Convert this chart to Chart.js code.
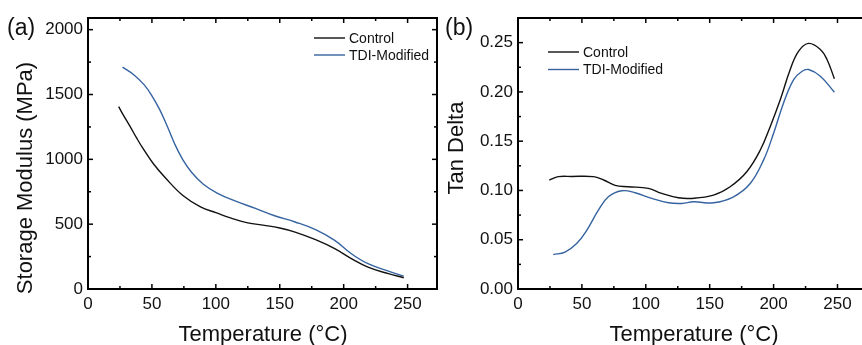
<!DOCTYPE html>
<html>
<head>
<meta charset="utf-8">
<script src="https://cdn.jsdelivr.net/npm/chart.js@4.4.1/dist/chart.umd.min.js"></script>
<style>
  html, body { margin: 0; padding: 0; background: #fff; overflow: hidden; }
  #wrap { position: relative; width: 862px; height: 345px; overflow: hidden; }
  canvas { position: absolute; top: 0; }
  #modulus { left: 0; }
  #tandelta { left: 440px; }
</style>
</head>
<body>
<div id="wrap">
  <canvas id="modulus" width="440" height="345"></canvas>
  <canvas id="tandelta" width="436" height="345"></canvas>
</div>
<script>
// (a) storage modulus
const ctrlTempA = [24, 28, 33, 38, 43, 51, 61, 74, 88, 100, 112, 125, 138, 150, 162, 178, 193, 206, 219, 235, 247];
const ctrlModulus = [1406, 1335, 1252, 1165, 1084, 968, 852, 723, 633, 589, 546, 510, 491, 470, 439, 380, 311, 234, 169, 118, 87];
const tdiTempA = [27, 36, 44, 50, 56, 62, 68, 74, 81, 90, 101, 115, 131, 146, 162, 178, 193, 206, 219, 235, 247];
const tdiModulus = [1711, 1651, 1574, 1490, 1385, 1255, 1115, 1000, 900, 810, 740, 679, 622, 565, 517, 458, 375, 272, 195, 138, 99];

// (b) tan delta
const ctrlTempB = [24.5, 31.5, 42, 59, 67, 76, 86, 102, 112.5, 125.5, 135, 153, 166, 179, 189.6, 197.4, 205.2, 213, 219.6, 227.4, 236.6, 241.8, 247.6];
const ctrlTan = [0.1106, 0.114, 0.1142, 0.114, 0.1106, 0.1052, 0.1038, 0.1021, 0.097, 0.0926, 0.0919, 0.0953, 0.1038, 0.119, 0.141, 0.165, 0.192, 0.2227, 0.2414, 0.2492, 0.2431, 0.2329, 0.2133];
const tdiTempB = [27.6, 36.8, 45.9, 53.8, 62.9, 70.7, 81.2, 91.6, 104.7, 117.7, 128.2, 137.3, 153, 168.7, 181.7, 192.2, 200, 207.8, 215.7, 222.3, 227.4, 236.6, 247.6];
const tdiTan = [0.0349, 0.0375, 0.0461, 0.0596, 0.08, 0.0936, 0.0997, 0.0977, 0.0919, 0.0875, 0.0868, 0.0885, 0.0875, 0.0936, 0.107, 0.131, 0.158, 0.1888, 0.2125, 0.221, 0.2227, 0.2159, 0.1996];

// tick labels
const tempTicks = [0, 50, 100, 150, 200, 250];
const tempMinor = [25, 75, 125, 175, 225];
const modulusTicks = [0, 500, 1000, 1500, 2000];
const modulusMinor = [250, 750, 1250, 1750];
const tanTicks = [0, 0.05, 0.10, 0.15, 0.20, 0.25];
const tanMinor = [0.025, 0.075, 0.125, 0.175, 0.225];

const seriesNames = ['Control', 'TDI-Modified'];
const FONT = '"Liberation Sans", Arial, sans-serif';
const BLACK = '#111111';
const BLUE = '#3563a0';

function pts(xs, ys) {
    return xs.map((x, i) => ({ x: x, y: ys[i] }));
}

function lineSet(label, color, data) {
    return {
        label: label,
        data: data,
        borderColor: color,
        borderWidth: 1.4,
        pointRadius: 0,
        fill: false,
        tension: 0.4,
    };
}

/* frame, inward ticks, legend and titles */
const framePlugin = {
    id: 'frame',
    afterDraw(chart, args, o) {
        const ctx = chart.ctx;
        const a = chart.chartArea;
        const x = chart.scales.x, y = chart.scales.y;
        const seg = (x1, y1, x2, y2) => {
            ctx.beginPath(); ctx.moveTo(x1, y1); ctx.lineTo(x2, y2); ctx.stroke();
        };
        ctx.save();
        ctx.strokeStyle = '#000';
        ctx.lineWidth = 1.5;
        o.xMajor.concat(o.xMinor).forEach(v => {
            const len = o.xMajor.includes(v) ? 5 : 3;
            const px = x.getPixelForValue(v);
            seg(px, a.bottom, px, a.bottom - len);
            seg(px, a.top, px, a.top + len);
        });
        o.yMajor.concat(o.yMinor).forEach(v => {
            const len = o.yMajor.includes(v) ? 5 : 3;
            const py = y.getPixelForValue(v);
            seg(a.left, py, a.left + len, py);
            seg(a.right, py, a.right - len, py);
        });
        ctx.lineWidth = 2;
        ctx.strokeRect(a.left, a.top, a.right - a.left, a.bottom - a.top);

        // legend
        ctx.font = '14px ' + FONT;
        ctx.textBaseline = 'middle';
        ctx.textAlign = 'left';
        chart.data.datasets.forEach((ds, i) => {
            const ly = o.legend.y + i * o.legend.gap;
            ctx.strokeStyle = ds.borderColor;
            ctx.lineWidth = 1.4;
            seg(o.legend.x, ly, o.legend.x + 31, ly);
            ctx.fillStyle = BLACK;
            ctx.fillText(ds.label, o.legend.x + 35, ly + 1);
        });

        // titles
        ctx.fillStyle = BLACK;
        ctx.font = '22px ' + FONT;
        ctx.textBaseline = 'alphabetic';
        ctx.textAlign = 'center';
        ctx.fillText(o.xTitle, o.xTitlePos[0], o.xTitlePos[1]);
        ctx.save();
        ctx.translate(o.yTitlePos[0], o.yTitlePos[1]);
        ctx.rotate(-Math.PI / 2);
        ctx.fillText(o.yTitle, 0, 0);
        ctx.restore();
        ctx.font = '23px ' + FONT;
        ctx.textAlign = 'left';
        ctx.fillText(o.panel, o.panelPos[0], o.panelPos[1]);
        ctx.restore();
    }
};

function makeChart(canvas, datasets, cfg) {
    const tickFont = { family: FONT, size: 17 };
    return new Chart(canvas, {
        type: 'line',
        data: { datasets: datasets },
        options: {
            responsive: false,
            animation: false,
            devicePixelRatio: 1,
            layout: { padding: { top: 18, right: cfg.padRight, left: 0, bottom: 0 } },
            plugins: {
                legend: { display: false },
                tooltip: { enabled: false },
                frame: cfg.frame,
            },
            scales: {
                x: {
                    type: 'linear',
                    min: 0,
                    max: cfg.xMax,
                    afterFit: s => { s.height = 56; },
                    afterBuildTicks: s => { s.ticks = tempTicks.map(v => ({ value: v })); },
                    grid: { display: false, drawTicks: false },
                    border: { display: false },
                    ticks: { font: tickFont, color: BLACK, padding: 5, maxRotation: 0, autoSkip: false },
                },
                y: {
                    type: 'linear',
                    min: 0,
                    max: cfg.yMax,
                    afterFit: s => { s.width = cfg.yWidth; },
                    afterBuildTicks: s => { s.ticks = cfg.yTicks.map(v => ({ value: v })); },
                    grid: { display: false, drawTicks: false },
                    border: { display: false },
                    ticks: { font: tickFont, color: BLACK, padding: 5, autoSkip: false, callback: cfg.fmt },
                },
            },
        },
        plugins: [framePlugin],
    });
}

makeChart(document.getElementById('modulus'), [
    lineSet(seriesNames[0], BLACK, pts(ctrlTempA, ctrlModulus)),
    lineSet(seriesNames[1], BLUE, pts(tdiTempA, tdiModulus)),
], {
    xMax: 273,
    yMax: 2090,
    yWidth: 88,
    padRight: 3,
    yTicks: modulusTicks,
    fmt: v => String(v),
    frame: {
        xMajor: tempTicks, xMinor: tempMinor,
        yMajor: modulusTicks, yMinor: modulusMinor,
        legend: { x: 314, y: 38, gap: 17 },
        xTitle: 'Temperature (°C)', xTitlePos: [263, 341],
        yTitle: 'Storage Modulus (MPa)', yTitlePos: [32, 178],
        panel: '(a)', panelPos: [7, 35],
    },
});

makeChart(document.getElementById('tandelta'), [
    lineSet(seriesNames[0], BLACK, pts(ctrlTempB, ctrlTan)),
    lineSet(seriesNames[1], BLUE, pts(tdiTempB, tdiTan)),
], {
    xMax: 277,
    yMax: 0.275,
    yWidth: 78,
    padRight: 4,
    yTicks: tanTicks,
    fmt: v => v.toFixed(2),
    frame: {
        xMajor: tempTicks, xMinor: tempMinor,
        yMajor: tanTicks, yMinor: tanMinor,
        legend: { x: 108, y: 52, gap: 17.5 },
        xTitle: 'Temperature (°C)', xTitlePos: [254, 341],
        yTitle: 'Tan Delta', yTitlePos: [23, 148],
        panel: '(b)', panelPos: [5, 35],
    },
});
</script>
</body>
</html>
